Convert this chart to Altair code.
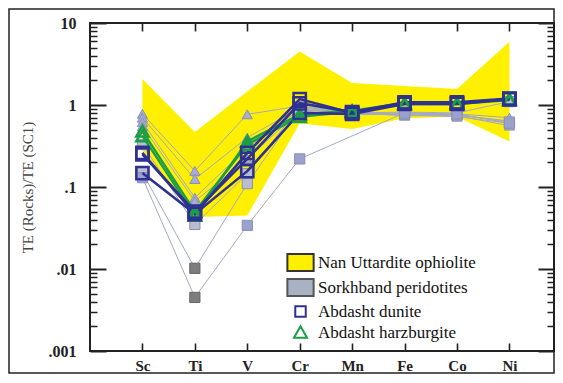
import altair as alt
import pandas as pd

# ---------------- data ----------------
elements = ["Sc", "Ti", "V", "Cr", "Mn", "Fe", "Co", "Ni"]

# Nan Uttardite ophiolite envelope (upper / lower bound)
nan_upper = [2.07, 0.47, 1.46, 4.5, 1.85, 1.70, 1.57, 5.9]
nan_lower = [0.28, 0.043, 0.045, 0.60, 0.51, 0.69, 0.72, 0.36]

# Sorkhband peridotites (None = not analysed)
sork_1 = [0.78, 0.157, 0.77, 0.97, 0.82, 0.78, 0.75, 0.64]
sork_2 = [0.70, 0.125, 0.40, 0.92, 0.80, 0.74, 0.74, 0.56]
sork_3 = [0.62, 0.074, 0.30, 0.88, 0.78, 0.76, 0.72, 0.60]
sork_4 = [0.55, 0.067, 0.22, 0.85, 0.76, 0.80, 0.78, 0.70]
sork_5 = [0.33, 0.035, 0.145, 0.95, 0.80, 0.82, 0.80, 1.10]
sork_6 = [0.15, 0.0102, 0.11, 0.90, 0.78, 0.78, 0.76, 0.62]
sork_7 = [0.13, 0.0045, 0.034, 0.22, None, 0.80, 0.78, 0.60]

# Abdasht dunite
dunite_1 = [0.26, 0.047, 0.26, 1.18, 0.80, 1.05, 1.05, 1.18]
dunite_2 = [0.148, 0.047, 0.156, 0.80, 0.78, 1.03, 1.03, 1.18]
dunite_3 = [0.25, 0.05, 0.22, 1.05, 0.82, 1.08, 1.08, 1.20]

# Abdasht harzburgite
harz_1 = [0.42, 0.045, 0.36, 0.77, 0.85, 1.05, 1.05, 1.18]
harz_2 = [0.48, 0.05, 0.33, 0.72, 0.83, 1.03, 1.03, 1.15]

legend_labels = ["Nan Uttardite ophiolite", "Sorkhband peridotites",
                 "Abdasht dunite", "Abdasht harzburgite"]

y_title = "TE (Rocks)/TE (SC1)"
y_ticks = [0.001, 0.002, 0.003, 0.004, 0.005, 0.006, 0.007, 0.008, 0.009,
           0.01, 0.02, 0.03, 0.04, 0.05, 0.06, 0.07, 0.08, 0.09,
           0.1, 0.2, 0.3, 0.4, 0.5, 0.6, 0.7, 0.8, 0.9,
           1, 2, 3, 4, 5, 6, 7, 8, 9, 10]

# ---------------- styles ----------------
sork_series = [sork_1, sork_2, sork_3, sork_4, sork_5, sork_6, sork_7]
sork_shapes = ["triangle-up"] * 4 + ["square"] * 3
sork_fills = ["#a9acd4"] * 4 + ["#b9bdcf", "#b9bdcf", "#9aa1cc"]
sork_dark_ti = [False] * 5 + [True, True]

W, H = 464, 328
FONT = "Liberation Serif"

# ---------------- tables ----------------
nan_df = pd.DataFrame({"pos": range(1, 9), "element": elements,
                       "upper": nan_upper, "lower": nan_lower})

recs = []
for k, vals in enumerate(sork_series):
    for i, v in enumerate(vals):
        if v is None:
            continue
        dark = sork_dark_ti[k] and elements[i] == "Ti"
        recs.append(dict(group="sork", sample=f"s{k}", pos=i + 1, value=v,
                         shape=sork_shapes[k],
                         fill="#7d7d7d" if dark else sork_fills[k],
                         stroke="#666666" if dark else "#8a90b8"))
for k, vals in enumerate([dunite_1, dunite_2, dunite_3]):
    for i, v in enumerate(vals):
        recs.append(dict(group="dunite", sample=f"d{k}", pos=i + 1, value=v,
                         shape="square", fill="transparent", stroke="#2e3192"))
for k, vals in enumerate([harz_1, harz_2]):
    for i, v in enumerate(vals):
        recs.append(dict(group="harz", sample=f"h{k}", pos=i + 1, value=v,
                         shape="triangle-up", fill="transparent", stroke="#1c9d48"))
pts = pd.DataFrame(recs)

legend_df = pd.DataFrame({"group": legend_labels, "pos": [1] * 4, "value": [1e-7] * 4})

# ---------------- encodings ----------------
major_test = "abs(log(datum.value)/LN10 - round(log(datum.value)/LN10)) < 0.001"
label_map = "[''," + ",".join(f"'{e}'" for e in elements) + "]"

x_axis = alt.Axis(values=list(range(1, 9)), labelExpr=f"{label_map}[datum.value]",
                  ticks=False, domain=False, grid=True, gridColor="#222222",
                  gridWidth=1.6, gridDash=[8, H - 16, 8, 3000],
                  labelFont=FONT, labelFontSize=15, labelFontWeight="bold",
                  labelColor="#222222", labelPadding=7, labelFlush=False,
                  labelOverlap=False, zindex=1)

y_axis = alt.Axis(values=y_ticks,
                  labelExpr=f"{major_test} ? replace(format(datum.value, ''), '0.', '.') : ''",
                  ticks=False, domain=False, grid=True, gridColor="#222222",
                  gridWidth={"condition": {"test": major_test, "value": 2}, "value": 1.4},
                  gridDash={"condition": {"test": major_test, "value": [16, W - 32, 16, 3000]},
                            "value": [7, W - 14, 7, 3000]},
                  labelFont=FONT, labelFontSize=16, labelFontWeight="bold",
                  labelColor="#222222", labelPadding=14, labelOverlap=False,
                  labelFlush=False, titleFont=FONT, titleFontSize=15,
                  titleFontWeight="normal", titleColor="#444444", titlePadding=13,
                  zindex=1)

xscale = alt.Scale(domain=[0, 8.85], nice=False, zero=False)
yscale = alt.Scale(type="log", domain=[0.001, 10], nice=False)


def X():
    return alt.X("pos:Q", scale=xscale, axis=x_axis, title=None)


def Y(field):
    return alt.Y(f"{field}:Q", scale=yscale, axis=y_axis, title=y_title)


# ---------------- layers ----------------
frame = alt.Chart(alt.Data(values=[{}])).mark_rect(
    fillOpacity=0, stroke="#222222", strokeWidth=1.5
).encode(x=alt.value(-81), x2=alt.value(W), y=alt.value(-14), y2=alt.value(H + 22))

area = alt.Chart(nan_df).mark_area(color="#fff000", opacity=1).encode(
    x=X(), y=Y("upper"), y2="lower")

base = alt.Chart(pts)

sork_lines = base.transform_filter(alt.datum.group == "sork").mark_line(
    color="#a3a8c9", strokeWidth=1).encode(x=X(), y=Y("value"), detail="sample:N")
sork_pts = base.transform_filter(alt.datum.group == "sork").mark_point(
    filled=True, size=105, strokeWidth=1, opacity=1).encode(
    x=X(), y=Y("value"),
    shape=alt.Shape("shape:N", scale=None),
    fill=alt.Fill("fill:N", scale=None),
    stroke=alt.Stroke("stroke:N", scale=None))

harz_lines = base.transform_filter(alt.datum.group == "harz").mark_line(
    color="#1c9d48", strokeWidth=2.4).encode(x=X(), y=Y("value"), detail="sample:N")
dun_lines = base.transform_filter(alt.datum.group == "dunite").mark_line(
    color="#2e3192", strokeWidth=2.6).encode(x=X(), y=Y("value"), detail="sample:N")

harz_pts = base.transform_filter(alt.datum.group == "harz").mark_point(
    shape="triangle-up", size=150, strokeWidth=2.5, color="#1c9d48", opacity=1).encode(
    x=X(), y=Y("value"))
dun_pts = base.transform_filter(alt.datum.group == "dunite").mark_point(
    shape="square", size=150, strokeWidth=2.5, color="#2e3192", opacity=1).encode(
    x=X(), y=Y("value"))

lg = alt.Legend(orient="none", legendX=199, legendY=228, title=None,
                labelFont=FONT, labelFontSize=17, labelColor="#111111",
                symbolSize=441, symbolStrokeWidth=2, labelOffset=6,
                rowPadding=0, padding=0, labelLimit=0)

shape_paths = ["M-1.25,-0.8H1.25V0.8H-1.25Z", "M-1.25,-0.8H1.25V0.8H-1.25Z",
               "M-0.5,-0.5H0.5V0.5H-0.5Z", "M0,-0.6L0.62,0.5L-0.62,0.5Z"]

legend_layer = alt.Chart(legend_df).mark_point(
    clip=True, filled=True, size=441, opacity=1).encode(
    x=X(), y=Y("value"),
    shape=alt.Shape("group:N", scale=alt.Scale(domain=legend_labels, range=shape_paths), legend=lg),
    fill=alt.Fill("group:N", scale=alt.Scale(domain=legend_labels,
                  range=["#fff000", "#a9b2c2", "transparent", "transparent"]), legend=lg),
    stroke=alt.Stroke("group:N", scale=alt.Scale(domain=legend_labels,
                      range=["#333333", "#555555", "#2e3192", "#1c9d48"]), legend=lg))

chart = alt.layer(
    frame, area, sork_lines, sork_pts, harz_lines, dun_lines, harz_pts, dun_pts, legend_layer
).properties(width=W, height=H, padding=0, background="white").configure(
    font=FONT
).configure_view(
    stroke="#222222", strokeWidth=2
).configure_legend(
    labelFont=FONT, labelFontSize=17, labelColor="#111111"
).configure_axis(
    labelFont=FONT, titleFont=FONT
)

chart.save("out.html", embed_options={"renderer": "svg", "actions": False})
